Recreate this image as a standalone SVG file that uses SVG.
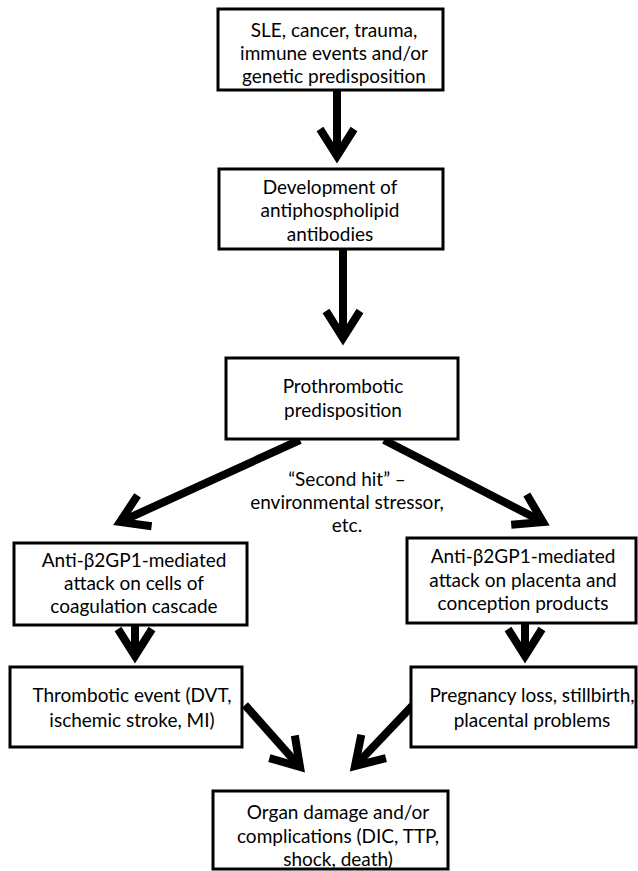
<svg xmlns="http://www.w3.org/2000/svg" width="638" height="871" viewBox="0 0 638 871">
<style>
.box{fill:#fff;stroke:#000;stroke-width:3}
.t{font-family:Lato,"Liberation Sans",sans-serif;font-size:19px;fill:#000;text-anchor:middle}
.arr{stroke:#000;stroke-width:8;fill:none;marker-end:url(#head)}
</style>
<defs>
<marker id="head" markerUnits="userSpaceOnUse" markerWidth="60" markerHeight="60" viewBox="-40 -30 60 60" refX="0" refY="0" orient="auto" overflow="visible">
<path d="M -27 -17 L 0 0 L -27 17" fill="none" stroke="#000" stroke-width="8" stroke-linejoin="miter" stroke-miterlimit="10"/>
</marker>
</defs>
<rect width="638" height="871" fill="#fff"/>
<g id="connectors">
<line class="arr" x1="337" y1="90" x2="337" y2="156"/>
<line class="arr" x1="343" y1="249" x2="343" y2="338"/>
<line class="arr" x1="300" y1="440" x2="120" y2="522"/>
<line class="arr" x1="384" y1="440" x2="543" y2="522"/>
<line class="arr" x1="135" y1="625" x2="135" y2="656"/>
<line class="arr" x1="525" y1="623" x2="525" y2="656"/>
<line class="arr" x1="245" y1="705" x2="300" y2="767"/>
<line class="arr" x1="413" y1="705" x2="355" y2="766"/>
</g>
<g id="n1">
<rect class="box" x="218" y="9" width="225" height="81"/>
<text class="t" x="334" y="37">SLE, cancer, trauma,</text>
<text class="t" x="334" y="60">immune events and/or</text>
<text class="t" x="334" y="83">genetic predisposition</text>
</g>
<g id="n2">
<rect class="box" x="219" y="169" width="224" height="80"/>
<text class="t" x="330" y="194">Development of</text>
<text class="t" x="330" y="217">antiphospholipid</text>
<text class="t" x="330" y="241">antibodies</text>
</g>
<g id="n3">
<rect class="box" x="226" y="358" width="232" height="81"/>
<text class="t" x="343" y="393">Prothrombotic</text>
<text class="t" x="343" y="417">predisposition</text>
</g>
<g id="lbl">
<text class="t" x="347" y="486">“Second hit” –</text>
<text class="t" x="347" y="509">environmental stressor,</text>
<text class="t" x="347" y="532">etc.</text>
</g>
<g id="n4">
<rect class="box" x="14" y="543" width="233" height="82"/>
<text class="t" x="134" y="567">Anti-β2GP1-mediated</text>
<text class="t" x="134" y="590">attack on cells of</text>
<text class="t" x="134" y="613">coagulation cascade</text>
</g>
<g id="n5">
<rect class="box" x="407" y="538" width="229" height="85"/>
<text class="t" x="523" y="563">Anti-β2GP1-mediated</text>
<text class="t" x="523" y="587">attack on placenta and</text>
<text class="t" x="523" y="610">conception products</text>
</g>
<g id="n6">
<rect class="box" x="10" y="667" width="232" height="80"/>
<text class="t" x="132" y="702">Thrombotic event (DVT,</text>
<text class="t" x="132" y="727">ischemic stroke, MI)</text>
</g>
<g id="n7">
<rect class="box" x="411" y="667" width="225" height="80"/>
<text class="t" x="532" y="702">Pregnancy loss, stillbirth,</text>
<text class="t" x="532" y="727">placental problems</text>
</g>
<g id="n8">
<rect class="box" x="213" y="791" width="235" height="78"/>
<text class="t" x="338" y="819">Organ damage and/or</text>
<text class="t" x="338" y="843">complications (DIC, TTP,</text>
<text class="t" x="338" y="866">shock, death)</text>
</g>
</svg>
